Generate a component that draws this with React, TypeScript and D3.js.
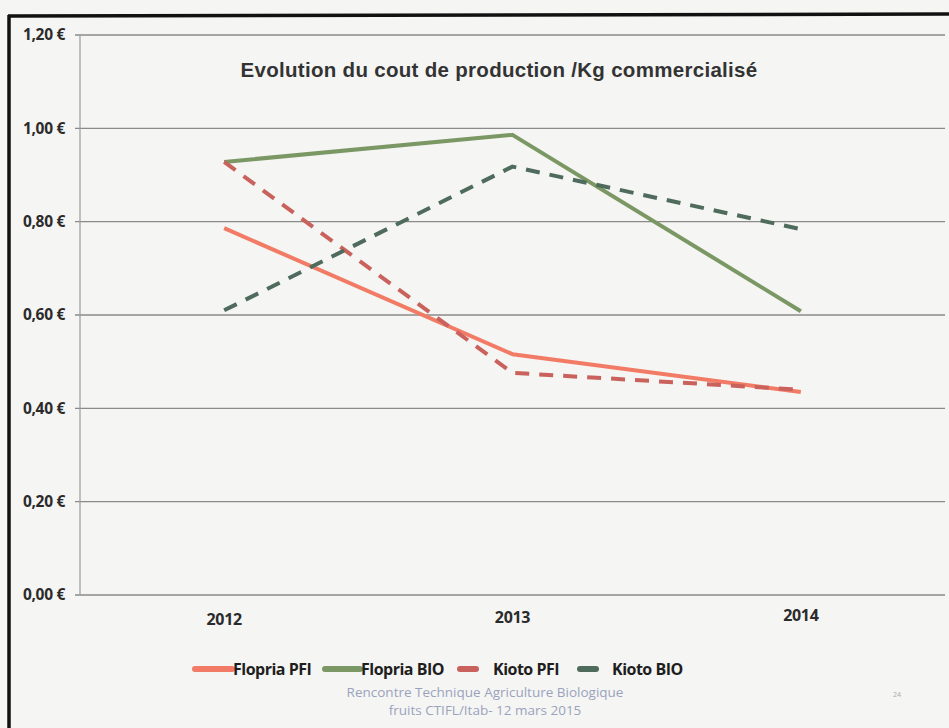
import React from "react";
import * as d3 from "d3";

const years = ["2012", "2013", "2014"];
const floprioPFI = [0.786, 0.516, 0.435];
const flopriaBIO = [0.928, 0.986, 0.608];
const kiotoPFI = [0.928, 0.476, 0.44];
const kiotoBIO = [0.61, 0.918, 0.784];
const yTicks = [0, 0.2, 0.4, 0.6, 0.8, 1.0, 1.2];
const seriesNames = ["Flopria PFI", "Flopria BIO", "Kioto PFI", "Kioto BIO"];
const title = "Evolution du cout de production /Kg commercialisé";
const footer1 = "Rencontre Technique Agriculture Biologique";
const footer2 = "fruits CTIFL/Itab- 12 mars 2015";

const W = 949;
const H = 728;

export default function App() {
  const left = 80;
  const right = 945;
  const top = 35;
  const bottom = 595;
  const x = d3.scaleBand<string>().domain(years).range([left, right]);
  const y = d3.scaleLinear().domain([0, 1.2]).range([bottom, top]);
  const fmt = (v: number) => d3.format(".2f")(v).replace(".", ",") + " €";

  const series = [
    { name: seriesNames[0], values: floprioPFI, color: "#f27b66", dash: undefined },
    { name: seriesNames[1], values: flopriaBIO, color: "#7a9764", dash: undefined },
    { name: seriesNames[2], values: kiotoPFI, color: "#c9625c", dash: "14,10" },
    { name: seriesNames[3], values: kiotoBIO, color: "#4e6b5c", dash: "14,10" },
  ];

  const line = d3
    .line<number>()
    .x((_, i) => (x(years[i]) as number) + x.bandwidth() / 2)
    .y((d) => y(d));

  const legendItems = [
    { x1: 195, x2: 232, tx: 233, dash: false },
    { x1: 325, x2: 360, tx: 361, dash: false },
    { x1: 460, x2: 476, tx: 493, dash: true },
    { x1: 580, x2: 596, tx: 612, dash: true },
  ];

  return (
    <svg
      width={W}
      height={H}
      style={{ position: "absolute", left: 0, top: 0, background: "#f5f5f3" }}
      fontFamily="'Open Sans', 'DejaVu Sans', sans-serif"
    >
      <rect x={0} y={0} width={W} height={H} fill="#f5f5f3" />
      {/* outer frame */}
      <line x1={8} y1={16} x2={W} y2={14} stroke="#111" strokeWidth={3.5} />
      <line x1={9} y1={15} x2={9} y2={H} stroke="#111" strokeWidth={3.5} />

      {/* gridlines */}
      {yTicks.map((t) => (
        <g key={t}>
          <line x1={left - 5} x2={right} y1={y(t)} y2={y(t)} stroke="#8a8a8a" strokeWidth={1.3} />
          <text
            x={65}
            y={y(t)}
            dy="0.35em"
            textAnchor="end"
            fontSize={15.5}
            fontWeight="bold"
            fill="#2b2b2b"
            letterSpacing={-0.3}
          >
            {fmt(t)}
          </text>
        </g>
      ))}
      <line x1={left} x2={left} y1={top} y2={bottom} stroke="#9a9a9a" strokeWidth={1.2} />

      {/* x labels */}
      {years.map((yr, i) => (
        <text
          key={yr}
          x={(x(yr) as number) + x.bandwidth() / 2}
          y={625 - i * 2}
          textAnchor="middle"
          fontSize={16}
          fontWeight="bold"
          fill="#2b2b2b"
          letterSpacing={-0.3}
        >
          {yr}
        </text>
      ))}

      {/* title */}
      <text
        x={499}
        y={77}
        textAnchor="middle"
        fontSize={20.5}
        fontWeight="bold"
        fill="#333"
        letterSpacing={0.3}
        fontFamily="'Liberation Sans', Arial, sans-serif"
      >
        {title}
      </text>

      {/* series */}
      {series.map((s) => (
        <path
          key={s.name}
          d={line(s.values) || ""}
          fill="none"
          stroke={s.color}
          strokeWidth={4}
          strokeDasharray={s.dash}
          strokeLinecap="butt"
          strokeLinejoin="round"
        />
      ))}

      {/* legend */}
      {series.map((s, i) => {
        const it = legendItems[i];
        return (
          <g key={s.name}>
            <line
              x1={it.x1}
              x2={it.x2}
              y1={669}
              y2={669}
              stroke={s.color}
              strokeWidth={6}
              strokeLinecap="round"
            />
            <text x={it.tx} y={675} fontSize={16} fontWeight="bold" fill="#1e1e1e" letterSpacing={-0.5}>
              {s.name}
            </text>
          </g>
        );
      })}

      {/* footer */}
      <text x={485} y={697} textAnchor="middle" fontSize={13.5} fill="#9aa3bd">
        {footer1}
      </text>
      <text x={485} y={715} textAnchor="middle" fontSize={13.5} fill="#9aa3bd">
        {footer2}
      </text>
      <text x={897} y={697} textAnchor="middle" fontSize={7} fill="#aaa">
        24
      </text>
    </svg>
  );
}
